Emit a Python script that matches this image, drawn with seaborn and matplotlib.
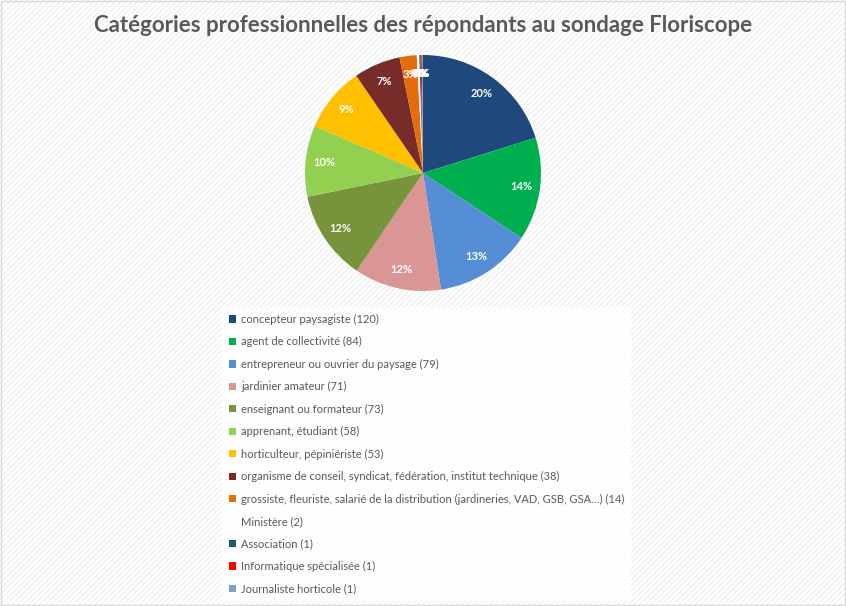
import matplotlib
matplotlib.use("Agg")
import matplotlib.pyplot as plt
import matplotlib.patches as mpatches
import seaborn as sns

categories = [
    "concepteur paysagiste",
    "agent de collectivité",
    "entrepreneur ou ouvrier du paysage",
    "jardinier amateur",
    "enseignant ou formateur",
    "apprenant, étudiant",
    "horticulteur, pépiniériste",
    "organisme de conseil, syndicat, fédération, institut technique",
    "grossiste, fleuriste, salarié de la distribution (jardineries, VAD, GSB, GSA…)",
    "Ministère",
    "Association",
    "Informatique spécialisée",
    "Journaliste horticole",
]
counts = [120, 84, 79, 71, 73, 58, 53, 38, 14, 2, 1, 1, 1]
pct_labels = ["20%", "14%", "13%", "12%", "12%", "10%", "9%", "7%", "3%",
              "0%", "0%", "0%", "0%"]
colors = ["#1F497D", "#00B050", "#558ED5", "#D99694", "#77933C", "#92D050",
          "#FFC000", "#772C2A", "#E46C0A", "#FFFFFF", "#215968", "#FF0000", "#7F9FCF"]
title = "Catégories professionnelles des répondants au sondage Floriscope"

sns.set_theme(style="white")
plt.rcParams['font.family'] = ['Lato', 'DejaVu Sans']

W, H = 846, 606
fig = plt.figure(figsize=(W / 100, H / 100), dpi=100)
fig.patch.set_facecolor("white")

# striped background
bg = fig.add_axes([0, 0, 1, 1])
bg.set_axis_off()
bg.set_xlim(0, 1); bg.set_ylim(0, 1)
bg.add_patch(mpatches.Rectangle((0, 0), 1, 1, facecolor="white", edgecolor="#F0F0F0",
                                hatch="//////", linewidth=0, zorder=0))
bg.add_patch(mpatches.Rectangle((0.001, 0.001), 0.998, 0.997, facecolor="none",
                                edgecolor="#D9D9D9", linewidth=1, zorder=1))

cx, cy, r = 423, 173, 118
ax = fig.add_axes([(cx - r) / W, (H - cy - r) / H, 2 * r / W, 2 * r / H])
wedges, texts, autotexts = ax.pie(
    counts, colors=colors, startangle=90, counterclock=False,
    autopct="%.0f%%", pctdistance=0.84, radius=1,
    wedgeprops=dict(linewidth=0),
    textprops=dict(color="white", fontsize=8, fontweight="bold"))
for t, s in zip(autotexts, pct_labels):
    t.set_text(s)
ax.set_xlim(-1, 1); ax.set_ylim(-1, 1)
ax.set_aspect("equal")

fig.text(cx / W, 1 - 26 / H, title, ha="center", va="center",
         fontsize=16, fontweight="bold", color="#595959")

labels = [f"{c} ({n})" for c, n in zip(categories, counts)]
handles = [mpatches.Patch(facecolor=c, edgecolor="none") for c in colors]
leg = fig.legend(handles, labels, loc="upper left",
                 bbox_to_anchor=(222 / W, 1 - 307 / H), borderaxespad=0,
                 frameon=True, fancybox=False, fontsize=8,
                 labelspacing=1.03, handlelength=0.65, handleheight=0.65,
                 handletextpad=0.45, borderpad=0.6)
leg.get_frame().set_facecolor("white")
leg.get_frame().set_edgecolor("none")
for t in leg.get_texts():
    t.set_color("#595959")

fig.savefig("out.png", dpi=100)
